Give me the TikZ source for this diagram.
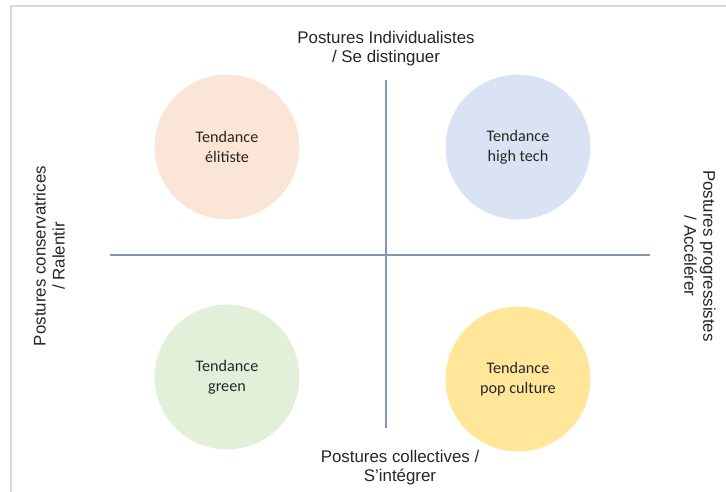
\documentclass[tikz,border=0pt]{standalone}
\usepackage{fontspec}
\setmainfont{Liberation Sans}
\newfontfamily\bodyfont{Carlito}
\definecolor{frame}{HTML}{D9D9D9}
\definecolor{axis}{HTML}{8497B0}
\definecolor{peach}{HTML}{FBE5D6}
\definecolor{sky}{HTML}{DAE3F3}
\definecolor{mint}{HTML}{E2F0D9}
\definecolor{gold}{HTML}{FFE699}
\definecolor{ink}{HTML}{262626}

\begin{document}
\begin{tikzpicture}[x=0.025cm,y=-0.025cm]
\tikzset{trend/.style={circle,minimum size=3.62cm,inner sep=0pt,align=center,
    font=\bodyfont\fontsize{11.5}{14.2}\selectfont,text=ink},
  posture/.style={align=center,font=\fontsize{12}{13.5}\selectfont,text=ink}}
\useasboundingbox (0,0) rectangle (726,492);
% frame
\draw[frame,line width=2.1pt] (726,6) -- (11,6) -- (11,492);
% axes
\coordinate (top) at (386,80);
\coordinate (bottom) at (386,428);
\coordinate (left) at (110,255);
\coordinate (right) at (650,255);
\draw[axis,line width=0.8pt] (top) -- (bottom);
\draw[axis,line width=0.8pt] (left) -- (right);
% trends
\node[trend,fill=peach] (elit) at (227,147) {Tendance\\élitiste};
\node[trend,fill=sky] (tech) at (518,147) {Tendance\\high tech};
\node[trend,fill=mint] (green) at (227,377) {Tendance\\green};
\node[trend,fill=gold] (pop) at (518,379) {Tendance\\pop culture};
% postures
\node[posture] (indiv) at (386,49) {Postures Individualistes\\/ Se distinguer};
\node[posture] (coll) at (400,468) {Postures collectives /\\S’intégrer};
\node[posture,rotate=90] (cons) at (49,256) {Postures conservatrices\\/ Ralentir};
\node[posture,rotate=-90] (prog) at (700,256) {Postures progressistes\\/ Accélérer};
\end{tikzpicture}
\end{document}
